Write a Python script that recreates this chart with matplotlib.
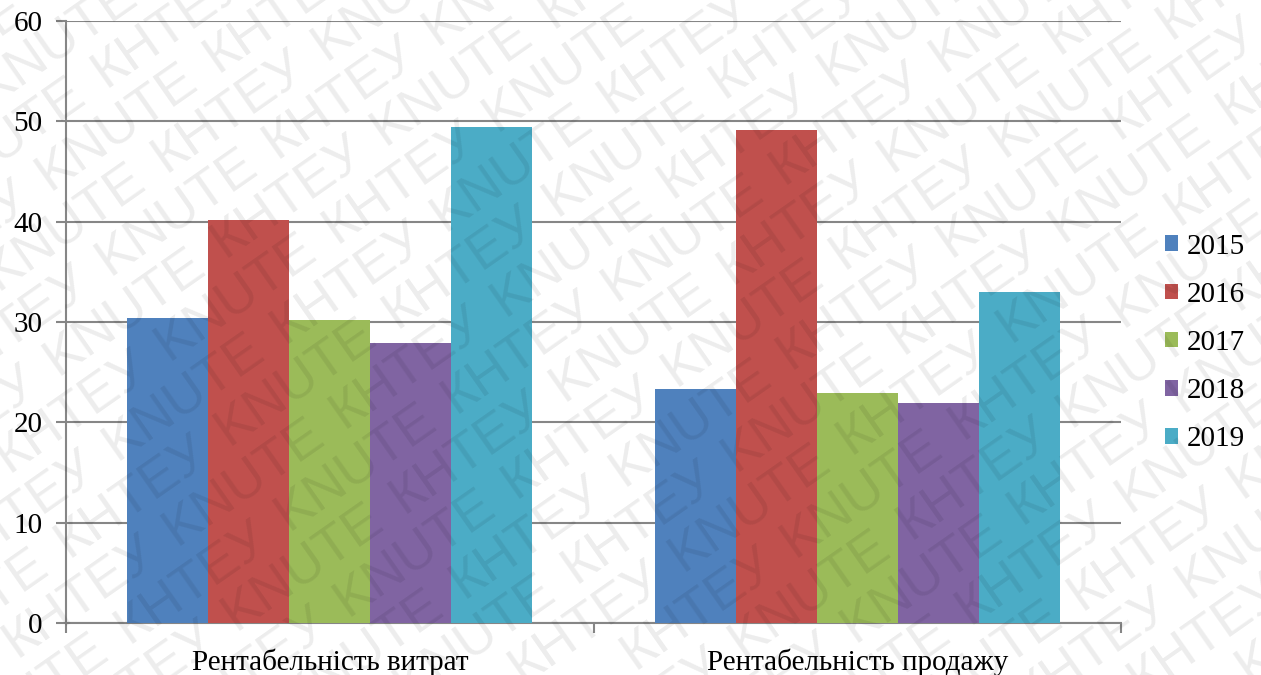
import numpy as np
import matplotlib
matplotlib.use("Agg")
import matplotlib.pyplot as plt
from matplotlib.patches import Patch

# Profitability indicators by year, %
categories = ["Рентабельність витрат", "Рентабельність продажу"]
years = ["2015", "2016", "2017", "2018", "2019"]
values_2015 = [30.4, 23.3]
values_2016 = [40.2, 49.1]
values_2017 = [30.2, 22.9]
values_2018 = [27.9, 21.9]
values_2019 = [49.4, 33.0]
series = [values_2015, values_2016, values_2017, values_2018, values_2019]
colors = ["#4F81BD", "#C0504D", "#9BBB59", "#8064A2", "#4BACC6"]
yticks = [0, 10, 20, 30, 40, 50, 60]

SERIF = ["Liberation Serif", "DejaVu Serif"]
plt.rcParams["font.family"] = SERIF
FS = 21

fig = plt.figure(figsize=(12.61, 6.75), dpi=100)
ax = fig.add_axes([66 / 1261, 52 / 675, 1055 / 1261, 602 / 675])

n = len(series)
bar_w = 0.768 / n
x = np.arange(len(categories)) + 0.5
for i, (vals, c) in enumerate(zip(series, colors)):
    offs = (i - (n - 1) / 2) * bar_w
    ax.bar(x + offs, vals, width=bar_w, color=c, zorder=3, linewidth=0)

ax.set_xlim(0, len(categories))
ax.set_ylim(0, 60)
ax.set_yticks(yticks)
ax.set_yticklabels([str(v) for v in yticks], fontsize=FS, family=SERIF)
ax.yaxis.grid(True, color="#868686", linewidth=1.5, zorder=0)
ax.set_xticks(np.arange(len(categories) + 1))
ax.set_xticklabels([])
ax.set_xticks(x, minor=True)
ax.set_xticklabels(categories, minor=True, fontsize=FS, family=SERIF)
ax.tick_params(axis="x", which="minor", length=0, pad=18)
ax.tick_params(axis="x", which="major", length=7, width=1.5, color="#868686")
ax.tick_params(axis="y", length=7, width=1.5, color="#868686", pad=10)
for s in ["top", "right"]:
    ax.spines[s].set_visible(False)
for s in ["left", "bottom"]:
    ax.spines[s].set_color("#868686")
    ax.spines[s].set_linewidth(1.5)

handles = [Patch(facecolor=c, edgecolor="none") for c in colors]
fig.legend(handles, years, loc="center left", bbox_to_anchor=(1150 / 1261, 1 - 343 / 675),
           frameon=False, prop={"family": SERIF, "size": FS}, handlelength=0.45,
           handleheight=0.45, handletextpad=0.3, labelspacing=0.76, borderpad=0)

# Diagonal "KNUTE КНТЕУ" watermark over the whole figure
W, H = 1261, 675
angle = 35
theta = np.deg2rad(angle)
along = np.array([np.cos(theta), np.sin(theta)])
perp = np.array([-np.sin(theta), np.cos(theta)])
words = ["KNUTE", "КНТЕУ"]
word_step = 200
line_step = 52
center = np.array([W / 2, H / 2])
for k in range(-16, 17):
    for j in range(-10, 11):
        p = center + k * line_step * perp + (j * word_step + (k % 2) * 100) * along
        if -60 < p[0] < W + 60 and -40 < p[1] < H + 40:
            fig.text(p[0] / W, p[1] / H, words[j % 2], rotation=angle,
                     rotation_mode="anchor", ha="center", va="center",
                     fontsize=39, color="black", alpha=0.075,
                     family=["Liberation Sans", "DejaVu Sans"], zorder=10)

fig.savefig("out.png", dpi=100)
